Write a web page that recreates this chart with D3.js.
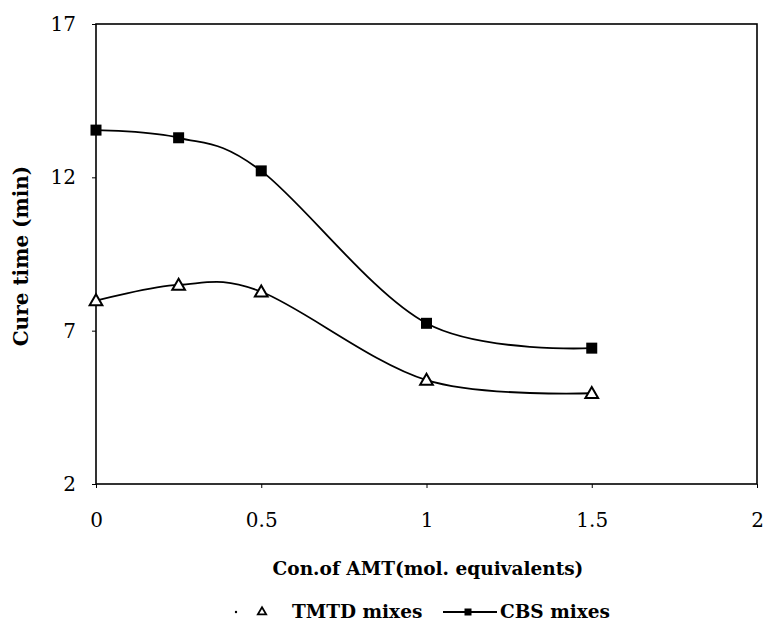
<!DOCTYPE html>
<html><head><meta charset="utf-8">
<script src="https://cdn.jsdelivr.net/npm/d3@7"></script>
<style>body{margin:0;background:#fff}</style>
</head><body>
<svg id="c" width="766" height="625"></svg>
<script>
const xValues = [0, 0.25, 0.5, 1.0, 1.5];
const tmtd = [7.98, 8.49, 8.27, 5.39, 4.96];
const cbs = [13.54, 13.29, 12.21, 7.24, 6.43];
const xTicks = [0, 0.5, 1, 1.5, 2];
const yTicks = [2, 7, 12, 17];
const seriesNames = ["TMTD mixes", "CBS mixes"];

const svg = d3.select("#c");
const L = 96, R = 757, T = 24, B = 484;
const x = d3.scaleLinear().domain([0, 2]).range([L, R]);
const y = d3.scaleLinear().domain([2, 17]).range([B, T]);
const font = "'DejaVu Serif', 'Liberation Serif', serif";

svg.append("rect").attr("width", 766).attr("height", 625).attr("fill", "#fff");

// frame
svg.append("rect").attr("x", L).attr("y", T).attr("width", R - L).attr("height", B - T)
  .attr("fill", "none").attr("stroke", "#000").attr("stroke-width", 1.6);

// axes
const xa = svg.append("g").attr("transform", `translate(0,${B})`)
  .call(d3.axisBottom(x).tickValues(xTicks).tickFormat(d3.format("")).tickSize(4).tickPadding(25));
const ya = svg.append("g").attr("transform", `translate(${L},0)`)
  .call(d3.axisLeft(y).tickValues(yTicks).tickSize(4).tickPadding(16));
[xa, ya].forEach(g => {
  g.select(".domain").remove();
  g.selectAll("line").attr("stroke", "#000").attr("stroke-width", 1);
  g.selectAll("text").attr("font-family", font).attr("font-size", 20).attr("fill", "#000");
});

// lines
const line = d3.line().x((d, i) => x(xValues[i])).y(d => y(d)).curve(d3.curveCardinal.tension(0));
svg.append("path").datum(cbs).attr("d", line).attr("fill", "none").attr("stroke", "#000").attr("stroke-width", 1.8);
svg.append("path").datum(tmtd).attr("d", line).attr("fill", "none").attr("stroke", "#000").attr("stroke-width", 1.8);

// markers
svg.selectAll(".sq").data(cbs).join("rect")
  .attr("x", (d, i) => x(xValues[i]) - 5.5).attr("y", d => y(d) - 5.5)
  .attr("width", 11).attr("height", 11).attr("fill", "#000");
const tri = d3.symbol().type(d3.symbolTriangle).size(70);
svg.selectAll(".tri").data(tmtd).join("path")
  .attr("d", tri)
  .attr("transform", (d, i) => `translate(${x(xValues[i])},${y(d) + 1})`)
  .attr("fill", "#fff").attr("stroke", "#000").attr("stroke-width", 2);

// titles
svg.append("text").attr("x", 428).attr("y", 575).attr("text-anchor", "middle")
  .attr("font-family", font).attr("font-weight", "bold").attr("font-size", 18.5).text("Con.of AMT(mol. equivalents)");
svg.append("text").attr("transform", "translate(28,256) rotate(-90)").attr("text-anchor", "middle")
  .attr("font-family", font).attr("font-weight", "bold").attr("font-size", 20).text("Cure time (min)");

// legend
const ly = 612;
svg.append("circle").attr("cx", 236).attr("cy", ly).attr("r", 1.2).attr("fill", "#000");
svg.append("path").attr("d", d3.symbol().type(d3.symbolTriangle).size(30))
  .attr("transform", `translate(262,${ly})`).attr("fill", "#fff").attr("stroke", "#000").attr("stroke-width", 1.8);
svg.append("text").attr("x", 292).attr("y", ly + 6).attr("font-family", font).attr("font-weight", "bold").attr("font-size", 18.5).text(seriesNames[0]);
svg.append("line").attr("x1", 443).attr("x2", 497).attr("y1", ly).attr("y2", ly).attr("stroke", "#000").attr("stroke-width", 1.8);
svg.append("rect").attr("x", 464.5).attr("y", ly - 3.5).attr("width", 7).attr("height", 7).attr("fill", "#000");
svg.append("text").attr("x", 500).attr("y", ly + 6).attr("font-family", font).attr("font-weight", "bold").attr("font-size", 18.5).text(seriesNames[1]);
</script>
</body></html>
